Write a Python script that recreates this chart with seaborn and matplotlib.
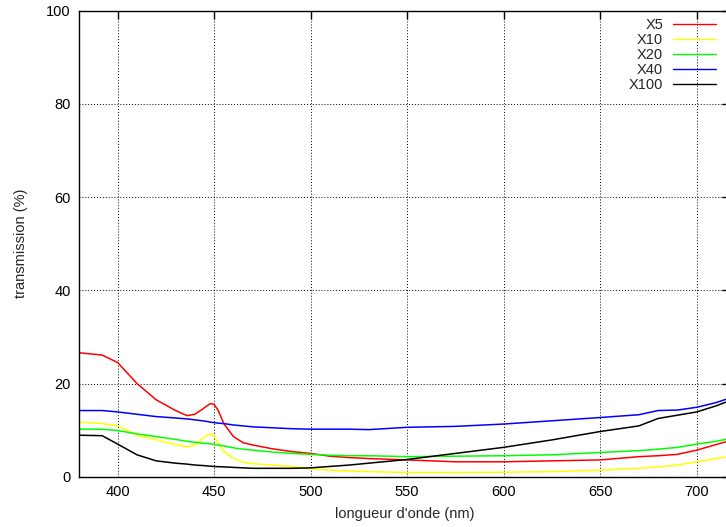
import pandas as pd
import seaborn as sns
import matplotlib
matplotlib.use("Agg")
import matplotlib.pyplot as plt

# wavelengths (nm)
wavelength = [380, 392, 400, 410, 420, 430, 436, 440, 444, 447, 448, 450, 452, 455, 460, 465,
              470, 480, 490, 500, 510, 520, 530, 550, 575, 600, 625, 650, 670, 680,
              690, 700, 710, 715]

# transmission (%) per objective
x5 = [26.6, 26.1, 24.5, 20.0, 16.5, 14.2, 13.1, 13.4, 14.5, 15.4, 15.7, 15.5, 14.3, 11.4, 8.6, 7.3,
      6.8, 6.0, 5.4, 5.0, 4.4, 4.1, 3.9, 3.6, 3.2, 3.2, 3.4, 3.6, 4.3, 4.5,
      4.8, 5.7, 6.9, 7.5]
x10 = [11.7, 11.4, 10.9, 8.9, 7.9, 6.9, 6.4, 6.8, 8.2, 9.1, 9.2, 8.6, 7.3, 5.4, 3.9, 3.1,
       2.8, 2.5, 2.2, 1.7, 1.4, 1.2, 1.1, 0.9, 0.9, 0.95, 1.1, 1.4, 1.8, 2.1,
       2.5, 3.2, 3.9, 4.2]
x20 = [10.2, 10.2, 9.9, 9.2, 8.6, 8.0, 7.6, 7.4, 7.2, 7.1, 7.05, 7.0, 6.8, 6.6, 6.2, 5.9,
       5.7, 5.3, 5.0, 4.8, 4.6, 4.5, 4.5, 4.3, 4.4, 4.5, 4.7, 5.2, 5.6, 5.9,
       6.3, 7.0, 7.6, 8.0]
x40 = [14.2, 14.2, 13.9, 13.4, 12.9, 12.6, 12.4, 12.2, 12.0, 11.8, 11.7, 11.6, 11.5, 11.4, 11.1, 10.9,
       10.7, 10.5, 10.3, 10.2, 10.2, 10.2, 10.1, 10.6, 10.8, 11.3, 12.0, 12.7, 13.3, 14.2,
       14.3, 14.9, 15.9, 16.6]
x100 = [8.9, 8.8, 7.0, 4.7, 3.4, 2.9, 2.7, 2.5, 2.4, 2.3, 2.25, 2.2, 2.15, 2.1, 2.0, 1.9,
        1.8, 1.8, 1.8, 1.9, 2.2, 2.5, 2.9, 3.7, 5.0, 6.3, 7.9, 9.7, 10.9, 12.5,
        13.2, 13.9, 15.2, 16.0]

series = {"X5": x5, "X10": x10, "X20": x20, "X40": x40, "X100": x100}
colors = {"X5": "#ff0000", "X10": "#ffff00", "X20": "#00ff00", "X40": "#0000ff", "X100": "#000000"}

df = pd.concat(
    [pd.DataFrame({"wavelength": wavelength, "transmission": v, "objectif": k}) for k, v in series.items()],
    ignore_index=True,
)

sns.set_style("white")
plt.rcParams["font.family"] = ["Liberation Sans", "DejaVu Sans"]
plt.rcParams["font.size"] = 10.5

fig = plt.figure(figsize=(7.26, 5.27), dpi=100)
# axes run slightly past the right edge of the image, as in the reference
ax = fig.add_axes([79 / 726, 50.3 / 527, 651 / 726, 466 / 527])

sns.lineplot(data=df, x="wavelength", y="transmission", hue="objectif",
             palette=colors, hue_order=list(series), linewidth=1.1, ax=ax, legend=False)

ax.set_xlim(380, 717.2)
ax.set_ylim(0, 100)
ax.set_xticks([400, 450, 500, 550, 600, 650, 700])
ax.set_yticks([0, 20, 40, 60, 80, 100])
ax.grid(True, linestyle=(0, (1, 2)), color="black", linewidth=0.7)
ax.tick_params(direction="in", length=6, width=1, top=True, right=True,
               labelsize=10.5, colors="black", pad=6)
for s in ax.spines.values():
    s.set_color("black")
    s.set_linewidth(1)

ax.set_xlabel("longueur d'onde (nm)", fontsize=10.5, labelpad=6)
ax.set_ylabel("transmission (%)", fontsize=10.5, labelpad=13)

handles = [plt.Line2D([], [], color=colors[k], linewidth=1) for k in series]
fig.legend(handles, list(series), loc="upper right", bbox_to_anchor=(723 / 726, 1 - 11 / 527),
           frameon=False, markerfirst=False, handlelength=2.9, handletextpad=0.7,
           labelspacing=0.07, borderpad=0, fontsize=10.5)

fig.savefig("out.png", dpi=100)
